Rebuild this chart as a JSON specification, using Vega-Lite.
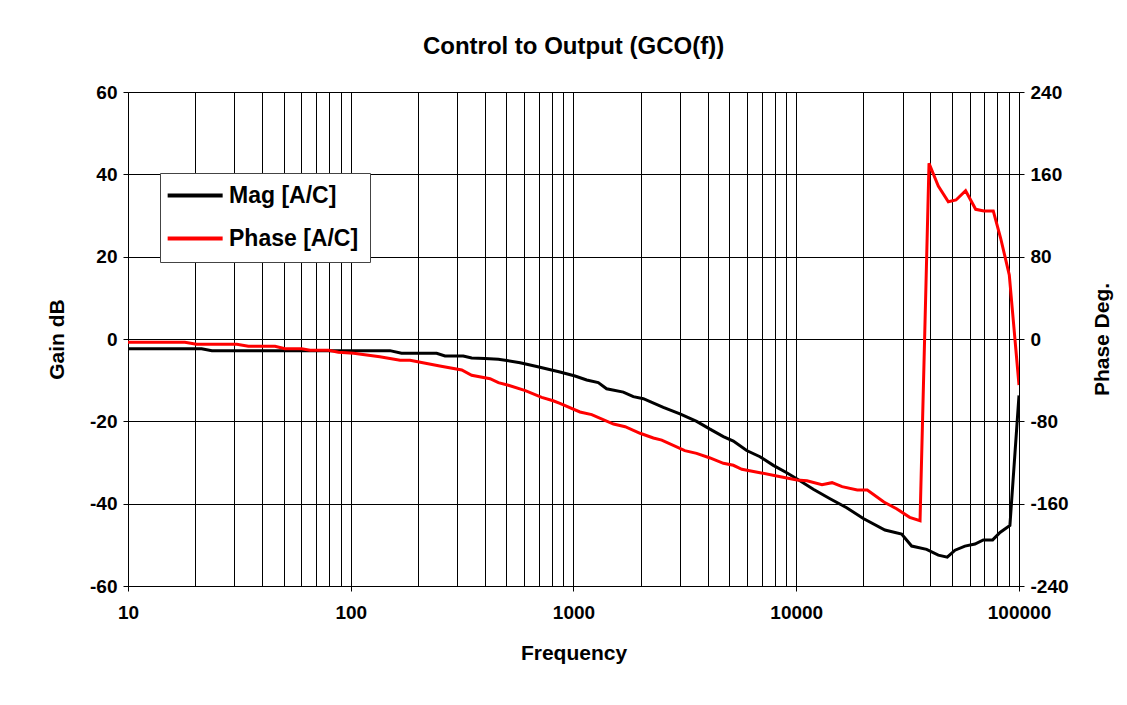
{
  "$schema": "https://vega.github.io/schema/vega-lite/v6.json",
  "width": 891,
  "height": 494,
  "autosize": "none",
  "padding": {"left": 128, "top": 92, "right": 108, "bottom": 119},
  "background": "white",
  "title": {"text": "Control to Output (GCO(f))", "font": "Liberation Sans", "fontSize": 24, "fontWeight": "bold", "color": "black", "offset": 24, "anchor": "middle"},
  "config": {
    "view": {"stroke": null},
    "axis": {"labelFont": "Liberation Sans", "labelFontSize": 19, "labelFontWeight": "bold", "labelColor": "black", "titleFont": "Liberation Sans", "titleFontSize": 21, "titleFontWeight": "bold", "titleColor": "black", "domainColor": "black", "tickColor": "black", "gridColor": "black", "gridOpacity": 1, "gridWidth": 1},
    "legend": {"labelFont": "Liberation Sans", "labelFontSize": 23, "labelFontWeight": "bold", "labelColor": "black"}
  },
  "datasets": {
    "mag": [
      {"f": 10, "v": -2.35, "s": "Mag [A/C]"},
      {"f": 21.4, "v": -2.35, "s": "Mag [A/C]"},
      {"f": 23.8, "v": -2.83, "s": "Mag [A/C]"},
      {"f": 150, "v": -2.83, "s": "Mag [A/C]"},
      {"f": 169, "v": -3.48, "s": "Mag [A/C]"},
      {"f": 243, "v": -3.48, "s": "Mag [A/C]"},
      {"f": 265, "v": -4.13, "s": "Mag [A/C]"},
      {"f": 320, "v": -4.13, "s": "Mag [A/C]"},
      {"f": 349, "v": -4.6, "s": "Mag [A/C]"},
      {"f": 400, "v": -4.75, "s": "Mag [A/C]"},
      {"f": 460, "v": -4.9, "s": "Mag [A/C]"},
      {"f": 576, "v": -5.75, "s": "Mag [A/C]"},
      {"f": 684, "v": -6.7, "s": "Mag [A/C]"},
      {"f": 869, "v": -8.0, "s": "Mag [A/C]"},
      {"f": 1016, "v": -9.0, "s": "Mag [A/C]"},
      {"f": 1146, "v": -9.96, "s": "Mag [A/C]"},
      {"f": 1292, "v": -10.6, "s": "Mag [A/C]"},
      {"f": 1408, "v": -12.1, "s": "Mag [A/C]"},
      {"f": 1674, "v": -12.9, "s": "Mag [A/C]"},
      {"f": 1856, "v": -14.0, "s": "Mag [A/C]"},
      {"f": 2058, "v": -14.5, "s": "Mag [A/C]"},
      {"f": 2531, "v": -16.6, "s": "Mag [A/C]"},
      {"f": 3005, "v": -18.2, "s": "Mag [A/C]"},
      {"f": 3572, "v": -20.0, "s": "Mag [A/C]"},
      {"f": 4100, "v": -21.9, "s": "Mag [A/C]"},
      {"f": 4707, "v": -23.7, "s": "Mag [A/C]"},
      {"f": 5220, "v": -24.8, "s": "Mag [A/C]"},
      {"f": 5990, "v": -27.1, "s": "Mag [A/C]"},
      {"f": 6875, "v": -28.6, "s": "Mag [A/C]"},
      {"f": 7892, "v": -30.7, "s": "Mag [A/C]"},
      {"f": 9063, "v": -32.5, "s": "Mag [A/C]"},
      {"f": 10217, "v": -34.2, "s": "Mag [A/C]"},
      {"f": 11930, "v": -36.5, "s": "Mag [A/C]"},
      {"f": 14180, "v": -38.8, "s": "Mag [A/C]"},
      {"f": 16840, "v": -41.0, "s": "Mag [A/C]"},
      {"f": 20000, "v": -43.6, "s": "Mag [A/C]"},
      {"f": 25010, "v": -46.4, "s": "Mag [A/C]"},
      {"f": 29720, "v": -47.4, "s": "Mag [A/C]"},
      {"f": 32960, "v": -50.3, "s": "Mag [A/C]"},
      {"f": 38480, "v": -51.1, "s": "Mag [A/C]"},
      {"f": 43420, "v": -52.5, "s": "Mag [A/C]"},
      {"f": 47640, "v": -53.0, "s": "Mag [A/C]"},
      {"f": 51610, "v": -51.3, "s": "Mag [A/C]"},
      {"f": 57190, "v": -50.3, "s": "Mag [A/C]"},
      {"f": 63440, "v": -49.8, "s": "Mag [A/C]"},
      {"f": 69150, "v": -48.8, "s": "Mag [A/C]"},
      {"f": 76170, "v": -48.8, "s": "Mag [A/C]"},
      {"f": 82180, "v": -47.0, "s": "Mag [A/C]"},
      {"f": 91030, "v": -45.3, "s": "Mag [A/C]"},
      {"f": 100000, "v": -13.7, "s": "Mag [A/C]"}
    ],
    "phase": [
      {"f": 10, "v": -3.2, "s": "Phase [A/C]"},
      {"f": 18, "v": -3.2, "s": "Phase [A/C]"},
      {"f": 20.3, "v": -5.2, "s": "Phase [A/C]"},
      {"f": 30.8, "v": -5.2, "s": "Phase [A/C]"},
      {"f": 34.7, "v": -7.1, "s": "Phase [A/C]"},
      {"f": 45.7, "v": -7.1, "s": "Phase [A/C]"},
      {"f": 50.7, "v": -9.4, "s": "Phase [A/C]"},
      {"f": 60.2, "v": -9.4, "s": "Phase [A/C]"},
      {"f": 65.6, "v": -11.0, "s": "Phase [A/C]"},
      {"f": 79.5, "v": -11.0, "s": "Phase [A/C]"},
      {"f": 88, "v": -12.9, "s": "Phase [A/C]"},
      {"f": 103, "v": -13.9, "s": "Phase [A/C]"},
      {"f": 135, "v": -17.2, "s": "Phase [A/C]"},
      {"f": 166.5, "v": -20.7, "s": "Phase [A/C]"},
      {"f": 184.5, "v": -20.7, "s": "Phase [A/C]"},
      {"f": 251, "v": -26.2, "s": "Phase [A/C]"},
      {"f": 315, "v": -30.1, "s": "Phase [A/C]"},
      {"f": 349, "v": -35.3, "s": "Phase [A/C]"},
      {"f": 422, "v": -38.6, "s": "Phase [A/C]"},
      {"f": 460, "v": -42.4, "s": "Phase [A/C]"},
      {"f": 510, "v": -45.0, "s": "Phase [A/C]"},
      {"f": 608, "v": -50.2, "s": "Phase [A/C]"},
      {"f": 720, "v": -56.7, "s": "Phase [A/C]"},
      {"f": 810, "v": -60.0, "s": "Phase [A/C]"},
      {"f": 869, "v": -62.5, "s": "Phase [A/C]"},
      {"f": 1069, "v": -70.9, "s": "Phase [A/C]"},
      {"f": 1207, "v": -73.5, "s": "Phase [A/C]"},
      {"f": 1512, "v": -82.6, "s": "Phase [A/C]"},
      {"f": 1706, "v": -85.2, "s": "Phase [A/C]"},
      {"f": 1990, "v": -91.6, "s": "Phase [A/C]"},
      {"f": 2283, "v": -96.2, "s": "Phase [A/C]"},
      {"f": 2490, "v": -98.2, "s": "Phase [A/C]"},
      {"f": 3160, "v": -108.5, "s": "Phase [A/C]"},
      {"f": 3570, "v": -111.1, "s": "Phase [A/C]"},
      {"f": 4100, "v": -115.6, "s": "Phase [A/C]"},
      {"f": 4710, "v": -120.8, "s": "Phase [A/C]"},
      {"f": 5220, "v": -122.7, "s": "Phase [A/C]"},
      {"f": 5700, "v": -126.6, "s": "Phase [A/C]"},
      {"f": 6875, "v": -129.9, "s": "Phase [A/C]"},
      {"f": 8170, "v": -133.1, "s": "Phase [A/C]"},
      {"f": 10070, "v": -137.0, "s": "Phase [A/C]"},
      {"f": 11170, "v": -137.7, "s": "Phase [A/C]"},
      {"f": 13050, "v": -141.6, "s": "Phase [A/C]"},
      {"f": 14480, "v": -139.6, "s": "Phase [A/C]"},
      {"f": 16060, "v": -143.5, "s": "Phase [A/C]"},
      {"f": 18790, "v": -146.7, "s": "Phase [A/C]"},
      {"f": 20840, "v": -146.7, "s": "Phase [A/C]"},
      {"f": 24740, "v": -158.4, "s": "Phase [A/C]"},
      {"f": 28200, "v": -164.9, "s": "Phase [A/C]"},
      {"f": 32300, "v": -173.3, "s": "Phase [A/C]"},
      {"f": 35950, "v": -176.6, "s": "Phase [A/C]"},
      {"f": 39450, "v": 170.7, "s": "Phase [A/C]"},
      {"f": 43420, "v": 148.7, "s": "Phase [A/C]"},
      {"f": 48170, "v": 133.4, "s": "Phase [A/C]"},
      {"f": 52140, "v": 135.1, "s": "Phase [A/C]"},
      {"f": 57580, "v": 144.1, "s": "Phase [A/C]"},
      {"f": 63900, "v": 126.0, "s": "Phase [A/C]"},
      {"f": 69630, "v": 124.4, "s": "Phase [A/C]"},
      {"f": 76640, "v": 124.4, "s": "Phase [A/C]"},
      {"f": 82740, "v": 97.9, "s": "Phase [A/C]"},
      {"f": 90440, "v": 62.2, "s": "Phase [A/C]"},
      {"f": 100000, "v": -44.7, "s": "Phase [A/C]"}
    ]
  },
  "layer": [
    {
      "data": {"name": "mag"},
      "mark": {"type": "line", "strokeWidth": 3, "clip": true},
      "encoding": {
        "x": {
          "field": "f", "type": "quantitative",
          "scale": {"type": "log", "domain": [10, 100000], "nice": false},
          "axis": {
            "title": "Frequency", "titlePadding": 20,
            "values": [10,20,30,40,50,60,70,80,90,100,200,300,400,500,600,700,800,900,1000,2000,3000,4000,5000,6000,7000,8000,9000,10000,20000,30000,40000,50000,60000,70000,80000,90000,100000],
            "labelExpr": "indexof([10,100,1000,10000,100000], datum.value) >= 0 ? '' + datum.value : ''",
            "labelPadding": 12,
            "labelOverlap": false,
            "labelFlush": false,
            "grid": true,
            "tickSize": 5,
            "tickOpacity": {"condition": {"test": "indexof([10,100,1000,10000,100000], datum.value) >= 0", "value": 1}, "value": 0}
          }
        },
        "y": {
          "field": "v", "type": "quantitative",
          "scale": {"domain": [-60, 60], "nice": false},
          "axis": {"title": "Gain dB", "values": [-60,-40,-20,0,20,40,60], "labelExpr": "'' + datum.value", "grid": true, "tickSize": 5, "labelPadding": 6, "titlePadding": 22}
        },
        "color": {
          "field": "s", "type": "nominal",
          "scale": {"domain": ["Mag [A/C]", "Phase [A/C]"], "range": ["#000000", "#ff0000"]},
          "legend": {
            "title": null, "orient": "none", "legendX": 32, "legendY": 81,
            "symbolType": "M-2.7,0H7.3", "symbolSize": 121, "symbolStrokeWidth": 4,
            "labelOffset": 35, "rowPadding": 19, "padding": 11,
            "strokeColor": "#444444", "fillColor": "white", "cornerRadius": 0
          }
        }
      }
    },
    {
      "data": {"name": "phase"},
      "mark": {"type": "line", "strokeWidth": 3, "clip": true},
      "encoding": {
        "x": {"field": "f", "type": "quantitative", "scale": {"type": "log", "domain": [10, 100000], "nice": false}},
        "y": {
          "field": "v", "type": "quantitative",
          "scale": {"domain": [-240, 240], "nice": false},
          "axis": {"title": "Phase Deg.", "orient": "right", "values": [-240,-160,-80,0,80,160,240], "labelExpr": "'' + datum.value", "grid": false, "tickSize": 5, "labelPadding": 6, "titlePadding": 44, "titleAngle": 270}
        },
        "color": {"field": "s", "type": "nominal"}
      }
    }
  ],
  "resolve": {"scale": {"y": "independent"}}
}
